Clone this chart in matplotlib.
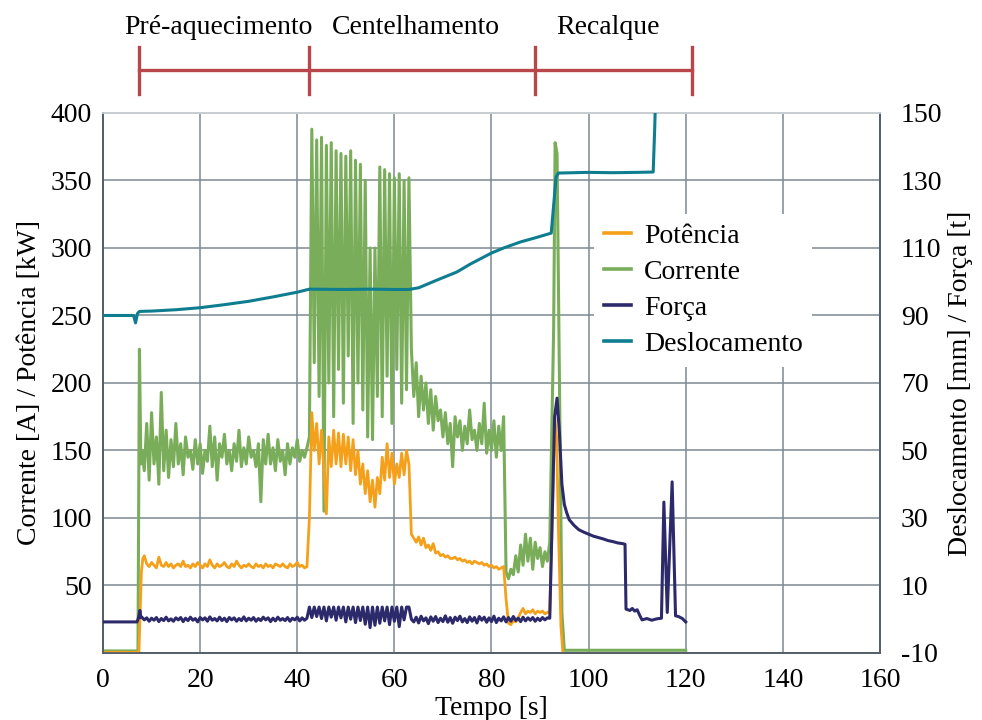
import numpy as np
import matplotlib
matplotlib.use("Agg")
import matplotlib.pyplot as plt
from matplotlib.transforms import blended_transform_factory

plt.rcParams['font.family'] = ['Liberation Serif', 'DejaVu Serif']
plt.rcParams['axes.unicode_minus'] = False


def seg(start, vals, step=0.5):
    # sample times for an evenly logged stretch of the signal
    return [start + step * i for i in range(len(vals))]


# --- phases of the weld cycle (s) ---
phase_names = ["Pré-aquecimento", "Centelhamento", "Recalque"]
phase_edges = [7.4, 42.4, 89.0, 121.3]

# --- Corrente [A] ---
cur_pre = [150, 135, 170, 128, 178, 140, 160, 125, 193, 135, 165, 130, 158, 138,
           170, 140, 155, 132, 160, 145, 150, 136, 158, 140, 155, 133, 150, 142,
           168, 138, 160, 128, 155, 145, 162, 140, 150, 135, 155, 142, 165, 138,
           152, 140, 160, 145, 150, 138, 155, 112, 158, 140, 162, 140, 152, 135,
           158, 142, 150, 132, 155, 140, 152, 145, 158, 142, 150, 145, 152]
cur_flash = [160, 388, 215, 380, 190, 382, 105, 376, 200, 378, 175, 372, 210, 370,
             185, 368, 220, 372, 170, 365, 200, 362, 180, 350, 160, 300, 158, 300,
             190, 360, 175, 358, 205, 355, 170, 352, 210, 355, 185, 350, 195, 352]
cur_late = [225, 190, 215, 175, 205, 180, 200, 170, 195, 165, 190, 172, 180, 160,
            178, 155, 170, 138, 175, 160, 172, 150, 168, 155, 180, 158, 165, 150,
            170, 155, 185, 148, 165, 150, 172, 145, 168, 150, 175]
cur_upset = [60, 55, 62, 58, 72, 60, 80, 65, 88, 68, 85, 62, 82, 70, 78, 64, 75,
             68, 82]
cur_t = ([0, 7.2, 7.5, 7.8] + seg(8.0, cur_pre) + seg(42.5, cur_flash)
         + seg(63.5, cur_late) + seg(83.0, cur_upset)
         + [92.8, 93.1, 93.5, 94.0, 94.5, 95.0, 120.0])
cur_v = ([1.5, 1.5, 225, 140] + cur_pre + cur_flash + cur_late + cur_upset
         + [240, 378, 370, 200, 30, 2, 2])

# --- Potência [kW] ---
pow_pre = [72, 66, 64, 67, 65, 63, 71, 65, 64, 67, 64, 66, 63, 65, 66, 64, 68, 64,
           65, 63, 66, 64, 67, 65, 63, 66, 64, 69, 65, 63, 66, 64, 65, 67, 64, 63,
           66, 64, 68, 65, 63, 65, 64, 66, 64, 63, 66, 64, 65, 63, 66, 64, 65, 63,
           66, 65, 64, 66, 64, 63, 66, 64, 65, 67, 64, 65, 63, 64]
pow_flash = [100, 178, 150, 170, 140, 165, 135, 103, 160, 138, 165, 140, 163, 138,
             162, 140, 160, 135, 158, 132, 150, 125, 140, 118, 135, 112, 128, 108,
             130, 118, 145, 128, 155, 130, 148, 125, 140, 130, 148, 132, 150, 140]
pow_late = [88, 85, 82, 86, 80, 85, 78, 80, 76, 81, 74, 75, 72, 73, 71, 72, 70, 70,
            71, 69, 70, 68, 69, 67, 68, 66, 68, 67, 66, 67, 65, 66, 64, 65, 63, 64,
            62, 63, 64, 40, 22, 21, 24, 23, 26, 30, 33, 29, 31, 30, 32, 29, 31, 30,
            31, 29, 30, 31]
pow_t = ([0, 7.4, 7.9, 8.2] + seg(8.5, pow_pre) + seg(42.5, pow_flash)
         + seg(63.5, pow_late) + [92.6, 93.0, 93.4, 93.8, 94.3, 94.7])
pow_v = ([0.5, 0.5, 60, 70] + pow_pre + pow_flash + pow_late
         + [110, 176, 160, 90, 20, 0.5])

# --- Força [t] ---
frc_pre = [0.6, -0.2, 0.4, -0.6, 0.3, -0.3, 0.5, -0.7, 0.2, -0.4,
           0.6, -0.5, 0.1, -0.6, 0.4, -0.2, 0.5, -0.7, 0.3, -0.4,
           0.6, -0.3, 0.2, -0.8, 0.5, -0.2, 0.4, -0.6, 0.7, -0.3,
           0.2, -0.5, 0.6, -0.4, 0.3, -0.7, 0.5, -0.2, 0.4, -0.6,
           0.2, -0.4, 0.7, -0.5, 0.3, -0.3, 0.5, -0.6, 0.2, -0.4,
           0.6, -0.2, 0.4, -0.7, 0.3, -0.5, 0.6, -0.3, 0.2, -0.4,
           0.5, -0.6, 0.3, -0.2, 0.6, -0.5, 0.4, -0.3, 0.3]
frc_flash = [3.6, 0.5, 3.6, 0.8, 3.6, 0.2, 3.6, -0.5, 3.6, 0.6, 3.6, -0.3, 3.6,
             0.4, 3.6, -0.8, 3.6, 0.0, 3.6, -1.0, 3.6, -0.4, 3.6, -1.5, 3.6, -2.5,
             3.6, -1.8, 3.6, -1.2, 3.6, -0.5, 3.6, -1.6, 3.6, -0.6, 3.6, -2.2, 3.6,
             -0.2, 3.6, 3.6]
frc_late = [0.0, -0.8, 0.6, -1.1, 0.9, -0.5, 0.4, -1.3, 0.7, -0.6, 0.8, -1.0, 0.3,
            -0.7, 1.0, -0.9, 0.5, -1.2, 0.6, -0.4, 0.9, -0.8, 0.2, -1.0, 0.7, -0.6,
            0.5, -1.1, 0.8, -0.3, 0.6, -0.9, 0.4, -0.7, 0.9, -1.0, 0.3, -0.5, 0.7,
            -0.8, 0.5, -0.6, 0.8, -0.4, 0.3, -0.7, 0.6, -0.5, 0.4, -0.3, 0.5, -0.6,
            0.3, -0.4, 0.5, -0.2, 0.4, 0.3]
frc_upset_t = [92.5, 93.0, 93.5, 94.0, 94.5, 95.0, 95.5, 96.0, 97.0, 98.0, 99.0,
               100.0, 101.0, 102.0, 103.0, 104.0, 105.0, 106.0, 107.0, 107.5,
               107.7, 108.5, 109.0, 109.5, 110.0, 110.5, 111.0, 112.0, 113.0,
               114.0, 115.0, 115.5, 116.2, 117.2, 117.9, 118.5, 119.3, 120.0]
frc_upset_v = [30, 60, 65.5, 55, 40, 34, 31.5, 29.5, 27.8, 26.5, 25.8, 25.2, 24.6,
               24.2, 23.8, 23.3, 23.0, 22.6, 22.4, 22.2, 3.0, 2.6, 3.2, 2.4, 2.8,
               1.2, -0.2, 0.2, -0.3, 0.1, 0.3, 34.7, 2.0, 40.7, 1.0, 0.8, 0.2, -0.8]
frc_t = ([0, 7.0, 7.3, 7.6, 7.8] + seg(8.0, frc_pre) + seg(42.5, frc_flash)
         + seg(63.5, frc_late) + frc_upset_t)
frc_v = ([-0.8, -0.8, 0.4, 2.6, 0.5] + frc_pre + frc_flash + frc_late
         + frc_upset_v)

# --- Deslocamento [mm] ---
dsl_t = [0, 6.3, 6.7, 7.1, 7.5, 10, 15, 20, 25, 30, 35, 40, 42.5, 50, 55, 60, 63,
         65, 68.8, 72.9, 75.6, 78, 80, 82.5, 86, 89, 92.3, 93.3, 93.8, 100, 105,
         110, 113.3, 113.6, 113.8]
dsl_v = [90, 90, 87.8, 90.6, 91.2, 91.3, 91.7, 92.3, 93.2, 94.2, 95.5, 96.9, 97.8,
         97.7, 97.8, 97.7, 97.7, 98.2, 100.5, 102.9, 105.2, 107.0, 108.5, 110.0,
         111.8, 113.0, 114.4, 131.0, 132.2, 132.4, 132.3, 132.4, 132.5, 145, 155]

C_POW = '#f5a01a'
C_CUR = '#79ad5a'
C_FRC = '#2d2a6b'
C_DSL = '#0e7d90'
C_GRID = '#7f8992'
C_PHASE = '#b8464a'

fig = plt.figure(figsize=(9.82, 7.2), dpi=100)
ax = fig.add_axes([0.1049, 0.0931, 0.7912, 0.75])
ax2 = ax.twinx()

l_cur, = ax.plot(cur_t, cur_v, color=C_CUR, lw=2.2, zorder=3, label='Corrente')
l_pow, = ax.plot(pow_t, pow_v, color=C_POW, lw=2.0, zorder=4, label='Potência')
l_frc, = ax2.plot(frc_t, frc_v, color=C_FRC, lw=2.2, zorder=3, label='Força')
l_dsl, = ax2.plot(dsl_t, dsl_v, color=C_DSL, lw=2.2, zorder=4, label='Deslocamento')

ax.set_xlim(0, 160)
ax.set_ylim(0, 400)
ax2.set_ylim(-10, 150)
ax.set_xticks(np.arange(0, 161, 20))
ax.set_yticks(np.arange(0, 401, 50))
ax.set_yticklabels([''] + [str(v) for v in range(50, 401, 50)])
ax2.set_yticks(np.arange(-10, 151, 20))

ax.grid(True, color=C_GRID, lw=1.1)
ax.set_axisbelow(True)
ax.tick_params(axis='both', length=0, labelsize=20)
ax.tick_params(axis='x', pad=11)
ax.tick_params(axis='y', pad=8)
ax2.tick_params(axis='y', length=0, labelsize=20, pad=15)

for a in (ax, ax2):
    for side in ('left', 'bottom', 'right'):
        a.spines[side].set_color('#55606b')
        a.spines[side].set_linewidth(1.3)
    a.spines['top'].set_color('#c9ced3')
    a.spines['top'].set_linewidth(1.3)

ax.set_xlabel('Tempo [s]', fontsize=20, labelpad=2)
ax.set_ylabel('Corrente [A] / Potência [kW]', fontsize=20, labelpad=6)
ax2.set_ylabel('Deslocamento [mm] / Força [t]', fontsize=20, labelpad=4)

leg = ax2.legend(handles=[l_pow, l_cur, l_frc, l_dsl], loc='upper left',
                 bbox_to_anchor=(580 / 982, 1 - 200 / 720),
                 bbox_transform=fig.transFigure, fontsize=20, frameon=True,
                 facecolor='white', edgecolor='none', framealpha=1.0,
                 handlelength=1.0, handletextpad=0.45, labelspacing=0.38,
                 borderpad=0.35, fancybox=False)
for h in leg.get_lines():
    h.set_linewidth(2.6)

# phase bracket above the plot
trans = blended_transform_factory(ax.transData, fig.transFigure)
y_bar = 1 - 70 / 720
ax.plot([phase_edges[0], phase_edges[-1]], [y_bar, y_bar], color=C_PHASE,
        lw=2.4, transform=trans, clip_on=False)
for xe in phase_edges:
    ax.plot([xe, xe], [1 - 47 / 720, 1 - 94 / 720], color=C_PHASE, lw=2.4,
            transform=trans, clip_on=False)
for name, a, b in zip(phase_names, phase_edges[:-1], phase_edges[1:]):
    ax.text((a + b) / 2 - 1.2, 1 - 27 / 720, name, ha='center', va='center',
            fontsize=20, transform=trans)

fig.savefig('out.png', dpi=100)
